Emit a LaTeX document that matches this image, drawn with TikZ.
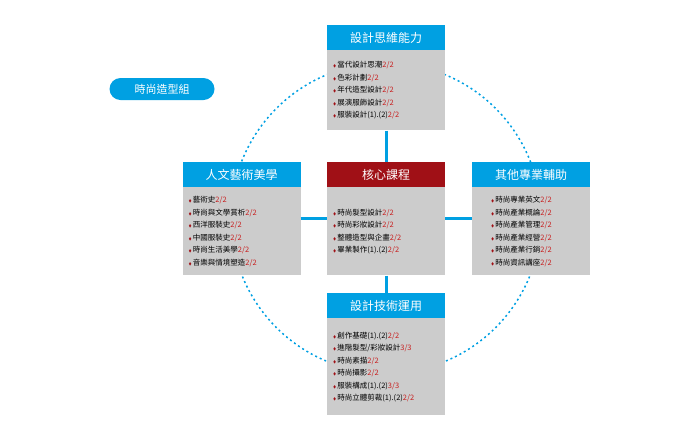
\documentclass[tikz,border=0pt]{standalone}
\usepackage{amssymb}
\usepackage{fontspec}
\setmainfont{Noto Sans CJK TC}
\usetikzlibrary{positioning}
\definecolor{skyblue}{RGB}{0,160,226}
\definecolor{darkred}{RGB}{160,16,22}
\definecolor{boxgrey}{RGB}{204,204,204}
\definecolor{numred}{RGB}{200,30,30}
\newcommand\crs[2]{\textcolor{darkred}{\scalebox{.55}{$\blacklozenge$}}\,#1\textcolor{numred}{#2}\\}
\tikzset{
  head/.style={fill=skyblue, text=white, minimum width=118pt, minimum height=25pt, inner sep=0pt, font=\fontsize{12}{12}\selectfont},
  body/.style={fill=boxgrey, minimum width=118pt, text width=106pt, align=left, anchor=north, inner sep=0pt, font=\fontsize{7.5}{12.5}\selectfont},
  link/.style={skyblue, line width=3pt}
}
\begin{document}
\begin{tikzpicture}[x=1pt,y=-1pt]
  \useasboundingbox (0,0) rectangle (700,440);
  % ring behind the boxes
  \draw [skyblue, line width=1.5pt, dash pattern=on 2pt off 3pt] (386,218) circle (155);

  \node [fill=skyblue, text=white, rounded corners=11pt, minimum width=105pt, minimum height=22pt, font=\fontsize{11}{11}\selectfont] (group) at (162,89) {時尚造型組};

  % top
  \node [head] (desT) at (386,37.5) {設計思維能力};
  \node [body, minimum height=80pt] (desB) at (desT.south) {\crs{當代設計思潮}{2/2}\crs{色彩計劃}{2/2}\crs{年代造型設計}{2/2}\crs{展演服飾設計}{2/2}\crs{服裝設計(1).(2)}{2/2}};

  % middle row
  \node [head, fill=darkred] (coreT) at (386,174.5) {核心課程};
  \node [body, minimum height=88pt] (coreB) at (coreT.south) {\crs{時尚髮型設計}{2/2}\crs{時尚彩妝設計}{2/2}\crs{整體造型與企畫}{2/2}\crs{畢業製作(1).(2)}{2/2}};

  \node [head] (humT) at (241.5,174.5) {人文藝術美學};
  \node [body, minimum height=88pt] (humB) at (humT.south) {\crs{藝術史}{2/2}\crs{時尚與文學賞析}{2/2}\crs{西洋服裝史}{2/2}\crs{中國服裝史}{2/2}\crs{時尚生活美學}{2/2}\crs{音樂與情境塑造}{2/2}};

  \node [head] (proT) at (531,174.5) {其他專業輔助};
  \node [body, minimum height=88pt, text width=80pt] (proB) at (proT.south) {\crs{時尚專業英文}{2/2}\crs{時尚產業概論}{2/2}\crs{時尚產業管理}{2/2}\crs{時尚產業經營}{2/2}\crs{時尚產業行銷}{2/2}\crs{時尚資訊講座}{2/2}};

  % bottom
  \node [head] (tecT) at (386,305.5) {設計技術運用};
  \node [body, minimum height=97pt] (tecB) at (tecT.south) {\crs{創作基礎(1).(2)}{2/2}\crs{進階髮型/彩妝設計}{3/3}\crs{時尚素描}{2/2}\crs{時尚攝影}{2/2}\crs{服裝構成(1).(2)}{3/3}\crs{時尚立體剪裁(1).(2)}{2/2}};

  % links to the core
  \draw [link] (desB.south) -- (coreT.north);
  \draw [link] (coreB.south) -- (tecT.north);
  \draw [link] ([yshift=13pt]humB.east) -- ([yshift=13pt]coreB.west);
  \draw [link] ([yshift=13pt]coreB.east) -- ([yshift=13pt]proB.west);
\end{tikzpicture}
\end{document}
